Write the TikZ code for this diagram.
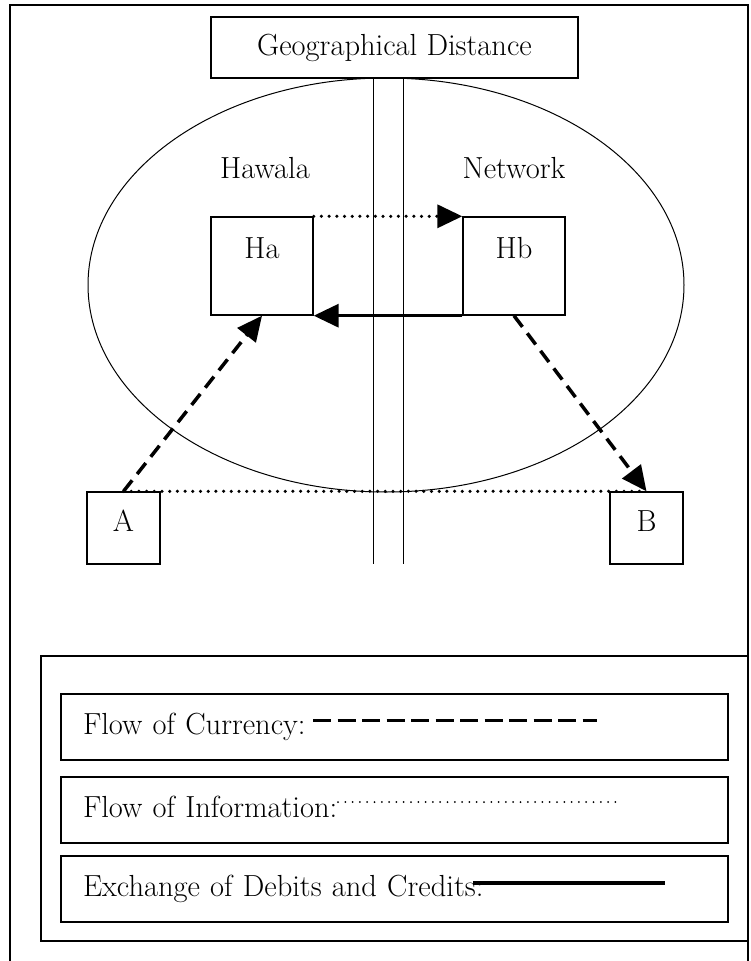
\documentclass[tikz,border=0pt]{standalone}
\usepackage{fontspec}
\usepackage{tikz}
\usetikzlibrary{arrows.meta}

\tikzset{
  hbox/.style={draw,line width=1.4pt,inner sep=0pt,minimum width=102pt,minimum height=98pt,text height=21pt,text depth=37pt},
  endbox/.style={draw,line width=1.4pt,inner sep=0pt,minimum width=73pt,minimum height=72pt,text height=21pt,text depth=15pt},
  keyrow/.style={draw,line width=1.4pt,inner ysep=0pt,inner xsep=22pt,text width=623pt,align=left,minimum height=66pt,text height=21pt,text depth=7pt},
  bigtip/.style={-{Triangle[length=25pt,width=23pt]}},
  currency/.style={line width=3.5pt,dash pattern=on 14pt off 8pt},
  information/.style={line width=3.5pt,line cap=round,dash pattern=on 0pt off 7.7pt},
  debits/.style={line width=3.5pt}
}

\begin{document}
\begin{tikzpicture}[x=1pt,y=-1pt,font=\fontsize{30.5}{36}\selectfont]
\useasboundingbox (0,0) rectangle (750,961);
\draw[line width=1.3pt](10,961)--(10,5)--(748,5)--(748,961);

\node[draw,line width=1.4pt,minimum width=367pt,minimum height=61pt](geo) at (394.5,47.5){Geographical Distance};
\draw[line width=1pt](386,285) ellipse [x radius=298pt,y radius=207pt];
\draw[line width=1pt](373,78)--(373,564);
\draw[line width=1pt](403,78)--(403,564);

\node(hawala) at (265,168){Hawala};
\node(network) at (514,168){Network};
\node[hbox](Ha) at (262,266){Ha};
\node[hbox](Hb) at (514,266){Hb};
\node[endbox](A) at (123.5,528){A};
\node[endbox](B) at (646.5,528){B};

\draw[information,bigtip](Ha.north east)--(Hb.north west);
\draw[debits,bigtip](Hb.south west)--(Ha.south east);
\draw[currency,bigtip](A.north)--(Ha.south);
\draw[currency,bigtip](Hb.south)--(B.north);
\draw[information](A.north)--(B.north);

% key
\draw[line width=1.3pt](41,656) rectangle (748,941);
\node[keyrow](cur) at (394.5,727){Flow of Currency:};
\node[keyrow](inf) at (394.5,810){Flow of Information:};
\node[keyrow](deb) at (394.5,889){Exchange of Debits and Credits:};
\coordinate(c1) at (313,720); \coordinate(c2) at (597,720);
\coordinate(i1) at (338,802); \coordinate(i2) at (621,802);
\coordinate(d1) at (473,883); \coordinate(d2) at (665,883);
\draw[line width=3pt,dash pattern=on 18pt off 6.5pt](c1)--(c2);
\draw[line width=2pt,line cap=round,dash pattern=on 0pt off 7.3pt](i1)--(i2);
\draw[debits](d1)--(d2);
\end{tikzpicture}
\end{document}
